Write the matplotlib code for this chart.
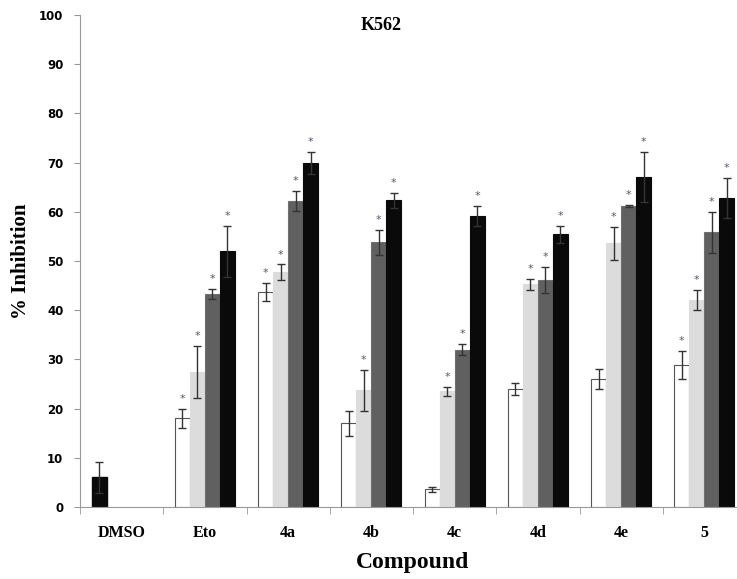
import numpy as np
import matplotlib
matplotlib.use("Agg")
import matplotlib.pyplot as plt

compounds = ["DMSO", "Eto", "4a", "4b", "4c", "4d", "4e", "5"]
# four series per compound (white, light grey, dark grey, black); DMSO only has one bar
s1 = [np.nan, 18.0, 43.7, 17.0, 3.6, 24.0, 26.0, 28.9]
s2 = [np.nan, 27.4, 47.7, 23.7, 23.5, 45.3, 53.6, 42.1]
s3 = [np.nan, 43.3, 62.2, 53.8, 32.0, 46.1, 61.2, 55.8]
s4 = [np.nan, 52.0, 69.9, 62.3, 59.1, 55.4, 67.0, 62.8]
e1 = [0, 2.0, 1.9, 2.6, 0.5, 1.2, 2.0, 2.8]
e2 = [0, 5.3, 1.6, 4.2, 0.9, 1.1, 3.3, 2.0]
e3 = [0, 1.1, 2.0, 2.6, 1.1, 2.6, 0.2, 4.1]
e4 = [0, 5.2, 2.2, 1.6, 2.0, 1.8, 5.1, 4.1]
dmso_val = 6.0
dmso_err = 3.1
# significance marks (1 = asterisk)
sig1 = [0, 1, 1, 0, 0, 0, 0, 1]
sig2 = [0, 1, 1, 1, 1, 1, 1, 1]
sig3 = [0, 1, 1, 1, 1, 1, 1, 1]
sig4 = [0, 1, 1, 1, 1, 1, 1, 1]

fig = plt.figure(figsize=(7.37, 5.79), dpi=100)
ax = fig.add_axes([80/737, 72/579, 666/737, 492/579])

x = np.arange(len(compounds))
w = 0.18
series = [s1, s2, s3, s4]
errs = [e1, e2, e3, e4]
sigs = [sig1, sig2, sig3, sig4]
colors = ["white", "#dcdcdc", "#606060", "#0a0a0a"]
edges = ["#555555", "#dcdcdc", "#707070", "#0a0a0a"]
ekw = dict(ecolor="#333333", elinewidth=1, capsize=3, capthick=1)

for i in range(4):
    xs = x + (i - 1.5) * w
    ax.bar(xs, series[i], w, color=colors[i], edgecolor=edges[i], linewidth=0.8,
           yerr=errs[i], error_kw=ekw, zorder=2)
    for j in range(len(compounds)):
        if sigs[i][j]:
            ax.text(xs[j], series[i][j] + errs[i][j] + 1.0, "*", ha="center", va="bottom",
                    fontsize=8, color="#555570")

# DMSO control bar
ax.bar(x[0] - 1.5 * w, dmso_val, w, color="#0a0a0a", edgecolor="#0a0a0a",
       yerr=dmso_err, error_kw=ekw, zorder=2)

ax.set_xlim(-0.5, len(compounds) - 0.5)
ax.set_ylim(0, 100)
ax.set_yticks(np.arange(0, 101, 10))
ax.set_xticks(x)
ax.set_xticklabels(compounds, fontfamily="Liberation Serif", fontweight="bold", fontsize=11.5)
ax.set_xticks(np.arange(-0.5, len(compounds), 1), minor=True)
ax.tick_params(axis="x", which="major", length=0, pad=13)
ax.tick_params(axis="x", which="minor", length=5, color="#999999")
ax.tick_params(axis="y", length=4, color="#999999", labelsize=8.5, pad=8)
for lab in ax.get_yticklabels():
    lab.set_fontweight("bold")

for s in ["top", "right"]:
    ax.spines[s].set_visible(False)
ax.spines["left"].set_color("#999999")
ax.spines["bottom"].set_color("#999999")

ax.set_ylabel("% Inhibition", fontfamily="Liberation Serif", fontweight="bold", fontsize=15, labelpad=6)
ax.set_xlabel("Compound", fontfamily="Liberation Serif", fontweight="bold", fontsize=17, labelpad=8)
fig.text(381/737, 1 - 25/579, "K562", ha="center", va="center",
         fontfamily="Liberation Serif", fontweight="bold", fontsize=13)

fig.savefig("out.png", dpi=100)
